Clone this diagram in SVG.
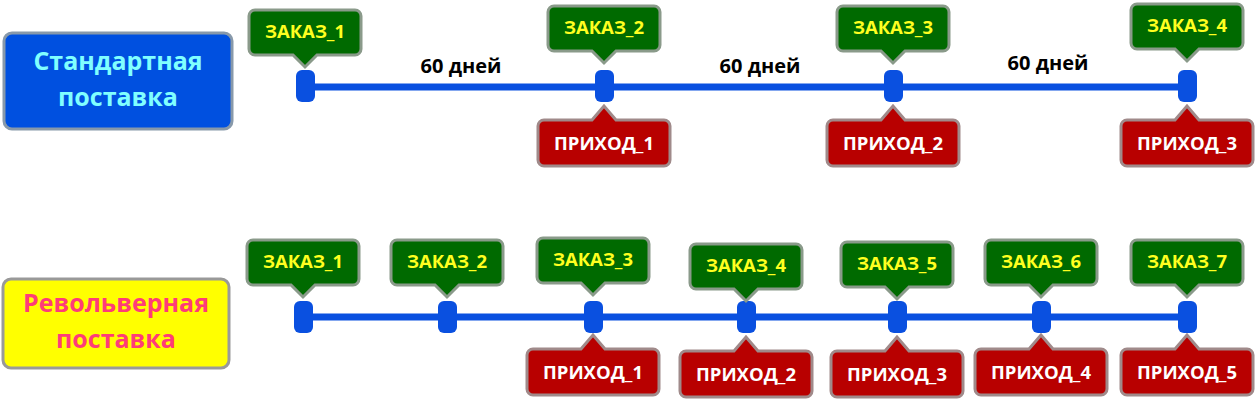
<svg xmlns="http://www.w3.org/2000/svg" width="1258" height="400" viewBox="0 0 1258 400">
<style>
text{font-family:"Open Sans","Liberation Sans",sans-serif;font-weight:bold;text-anchor:middle}
.g{fill:#006a00;stroke:#8a9a8a;stroke-width:3}
.r{fill:#b80000;stroke:#a08a8a;stroke-width:3}
.gt{fill:#ffff20;font-size:18.5px}
.rt{fill:#fff;font-size:18.5px}
.k{fill:#0a50e0}
.ln{stroke:#0a50e0;stroke-width:7}
.d{fill:#000;font-size:20px}
</style>
<defs>
<g id="gz"><path class="g" d="M-50,-56h100a6,6 0 0 1 6,6v33a6,6 0 0 1-6,6h-38l-12,12l-12,-12h-38a6,6 0 0 1-6,-6v-33a6,6 0 0 1 6,-6z"/></g>
<g id="rp"><path class="r" d="M-60,18h48l12,-14l12,14h48a6,6 0 0 1 6,6v34a6,6 0 0 1-6,6h-120a6,6 0 0 1-6,-6v-34a6,6 0 0 1 6,-6z"/></g>
</defs>
<g id="connectors">
<line class="ln" x1="305" y1="87" x2="1187" y2="87"/>
<line class="ln" x1="303" y1="317" x2="1187" y2="317"/>
</g>
<g id="std"><rect x="4" y="33" width="228" height="96" rx="8" fill="#0050e0" stroke="#8899aa" stroke-width="3"/>
<text x="118" y="70" font-size="25" fill="#80ffff">Стандартная</text><text x="118" y="106" font-size="25" fill="#80ffff">поставка</text></g>
<g id="rev"><rect x="3" y="279" width="226" height="89" rx="8" fill="#ffff00" stroke="#999" stroke-width="3"/>
<text x="116" y="312" font-size="25" fill="#ff3c78">Револьверная</text><text x="116" y="348" font-size="25" fill="#ff3c78">поставка</text></g>
<g id="days"><text class="d" x="461" y="73">60 дней</text><text class="d" x="760" y="73">60 дней</text><text class="d" x="1048" y="70">60 дней</text></g>
<g id="top-knots">
<rect class="k" x="296" y="70" width="19" height="32" rx="6"/><rect class="k" x="595" y="70" width="19" height="32" rx="6"/><rect class="k" x="884" y="70" width="19" height="32" rx="6"/><rect class="k" x="1178" y="70" width="19" height="32" rx="6"/>
</g>
<g id="bot-knots">
<rect class="k" x="294" y="301" width="19" height="32" rx="6"/><rect class="k" x="438" y="301" width="19" height="32" rx="6"/><rect class="k" x="584" y="301" width="19" height="32" rx="6"/><rect class="k" x="737" y="301" width="19" height="32" rx="6"/><rect class="k" x="888" y="301" width="19" height="32" rx="6"/><rect class="k" x="1032" y="301" width="19" height="32" rx="6"/><rect class="k" x="1178" y="301" width="19" height="32" rx="6"/>
</g>
<g id="z1"><use href="#gz" x="305" y="66"/><text class="gt" x="305" y="38">ЗАКАЗ_1</text></g>
<g id="z2"><use href="#gz" x="604" y="62"/><text class="gt" x="604" y="34">ЗАКАЗ_2</text></g>
<g id="z3"><use href="#gz" x="893" y="62"/><text class="gt" x="893" y="34">ЗАКАЗ_3</text></g>
<g id="z4"><use href="#gz" x="1187" y="60"/><text class="gt" x="1187" y="32">ЗАКАЗ_4</text></g>
<g id="p1"><use href="#rp" x="604" y="102"/><text class="rt" x="604" y="150">ПРИХОД_1</text></g>
<g id="p2"><use href="#rp" x="893" y="102"/><text class="rt" x="893" y="150">ПРИХОД_2</text></g>
<g id="p3"><use href="#rp" x="1187" y="102"/><text class="rt" x="1187" y="150">ПРИХОД_3</text></g>
<g id="bz1"><use href="#gz" x="303" y="296"/><text class="gt" x="303" y="268">ЗАКАЗ_1</text></g>
<g id="bz2"><use href="#gz" x="447" y="296"/><text class="gt" x="447" y="268">ЗАКАЗ_2</text></g>
<g id="bz3"><use href="#gz" x="593" y="294"/><text class="gt" x="593" y="266">ЗАКАЗ_3</text></g>
<g id="bz4"><use href="#gz" x="746" y="300"/><text class="gt" x="746" y="272">ЗАКАЗ_4</text></g>
<g id="bz5"><use href="#gz" x="897" y="298"/><text class="gt" x="897" y="270">ЗАКАЗ_5</text></g>
<g id="bz6"><use href="#gz" x="1041" y="296"/><text class="gt" x="1041" y="268">ЗАКАЗ_6</text></g>
<g id="bz7"><use href="#gz" x="1187" y="296"/><text class="gt" x="1187" y="268">ЗАКАЗ_7</text></g>
<g id="bp1"><use href="#rp" x="593" y="331"/><text class="rt" x="593" y="379">ПРИХОД_1</text></g>
<g id="bp2"><use href="#rp" x="746" y="333"/><text class="rt" x="746" y="381">ПРИХОД_2</text></g>
<g id="bp3"><use href="#rp" x="897" y="333"/><text class="rt" x="897" y="381">ПРИХОД_3</text></g>
<g id="bp4"><use href="#rp" x="1041" y="331"/><text class="rt" x="1041" y="379">ПРИХОД_4</text></g>
<g id="bp5"><use href="#rp" x="1187" y="331"/><text class="rt" x="1187" y="379">ПРИХОД_5</text></g>
</svg>
